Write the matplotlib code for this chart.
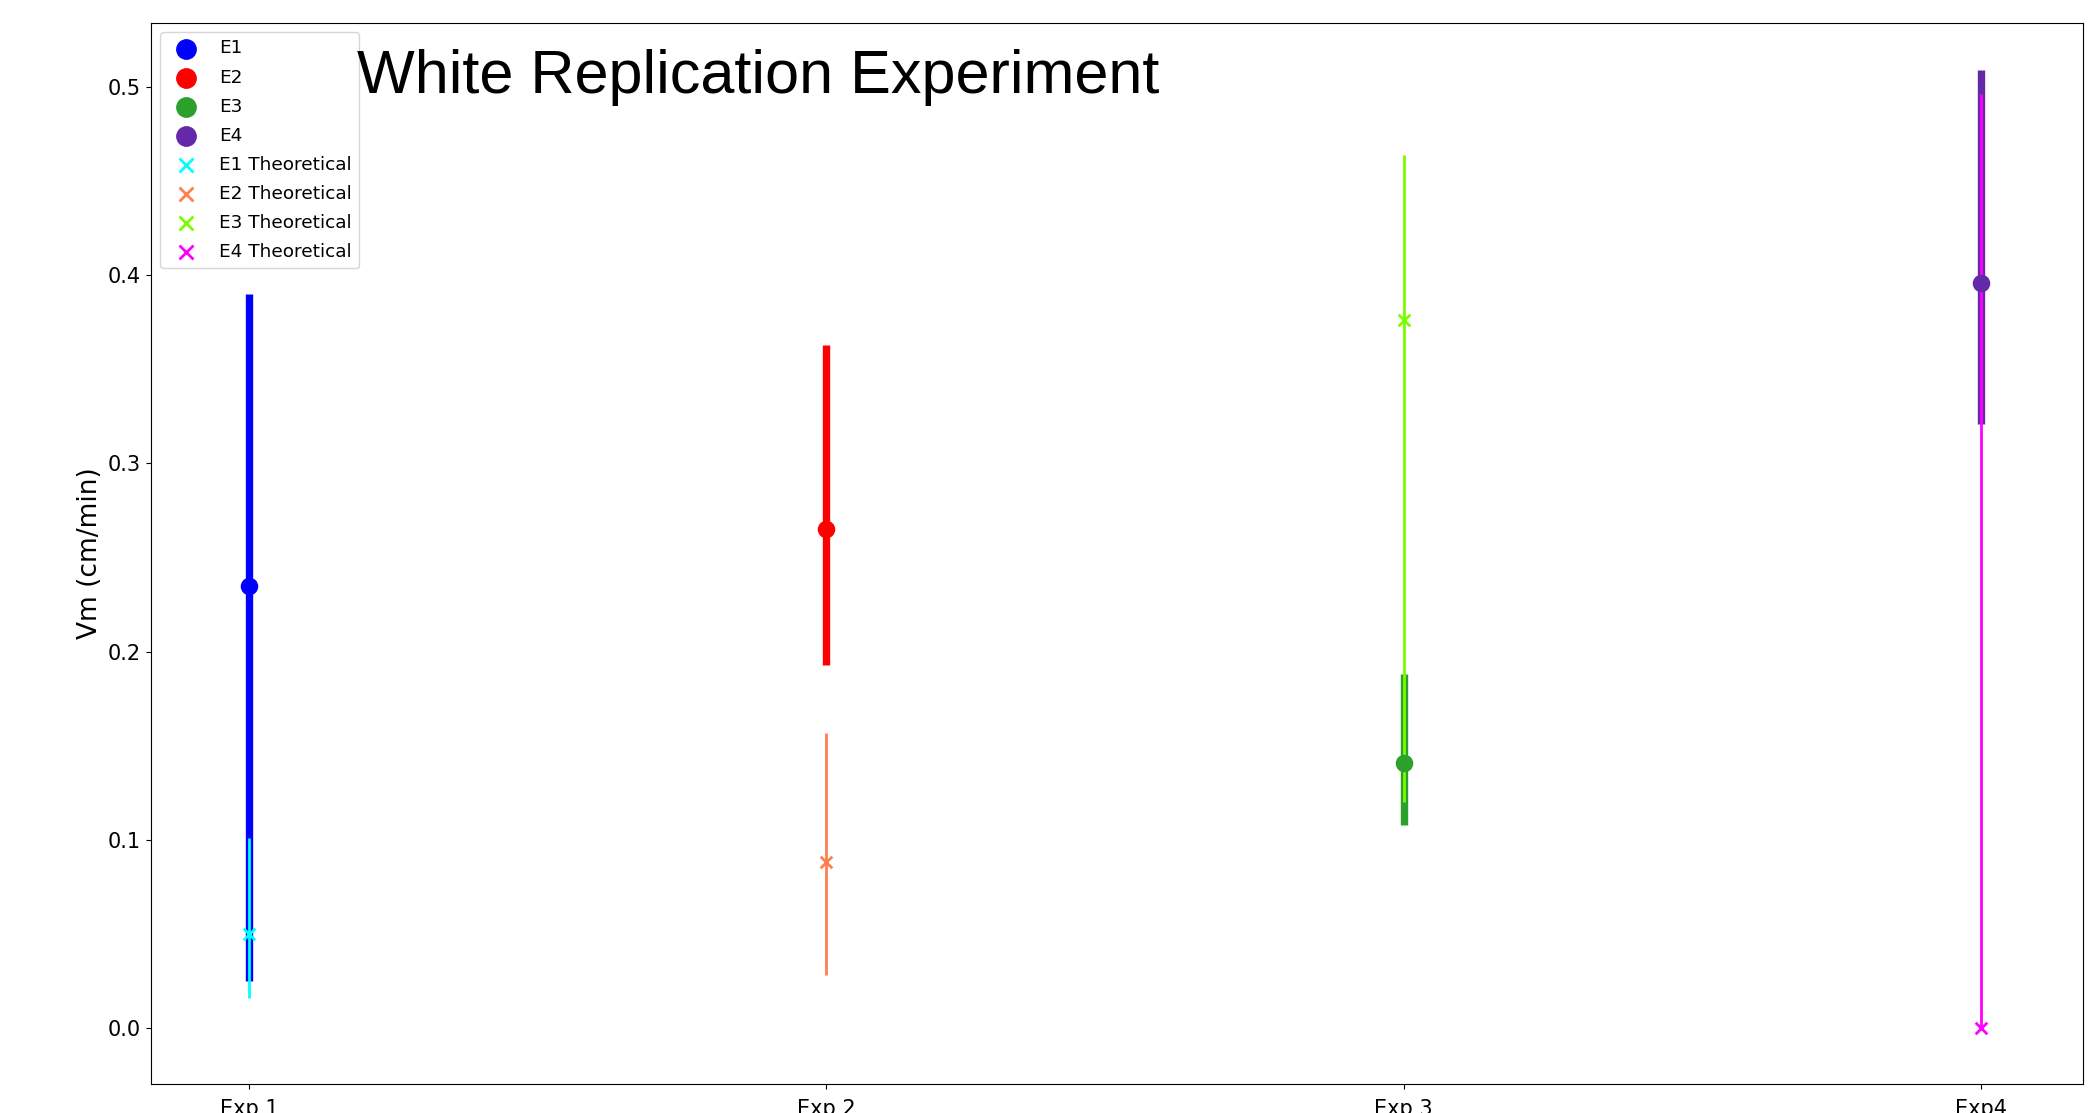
import numpy as np
import matplotlib.pyplot as plt

# ── data ────────────────────────────────────────────
experiments = ['Exp 1', 'Exp 2', 'Exp 3', 'Exp4']

# measured Vm with the ends of the error bars
vm_mean = [0.235, 0.265, 0.141, 0.396]
vm_low = [0.025, 0.193, 0.108, 0.321]
vm_high = [0.390, 0.363, 0.188, 0.509]

# theoretical Vm with the ends of the error bars
theo_mean = [0.050, 0.088, 0.376, 0.000]
theo_low = [0.016, 0.028, 0.120, 0.000]
theo_high = [0.101, 0.157, 0.464, 0.496]

exp_labels = ['E1', 'E2', 'E3', 'E4']
theo_labels = ['E1 Theoretical', 'E2 Theoretical', 'E3 Theoretical', 'E4 Theoretical']

exp_colors = ['blue', 'red', '#2ca02c', '#6329a8']
theo_colors = ['cyan', 'coral', 'lawngreen', 'magenta']

# ── plot ───────────────────────────────────────────
fig = plt.figure(figsize=(20.91, 11.13), dpi=100)
ax = fig.add_axes([0.0722, 0.026, 0.924, 0.9535])

x = np.arange(len(experiments))

# experimental bars (thick)
for i in range(len(x)):
    err = [[vm_mean[i] - vm_low[i]], [vm_high[i] - vm_mean[i]]]
    ax.errorbar(x[i], vm_mean[i], yerr=err, fmt='none',
                ecolor=exp_colors[i], elinewidth=5.3, capsize=0)

# theoretical bars (thin)
for i in range(len(x)):
    err = [[theo_mean[i] - theo_low[i]], [theo_high[i] - theo_mean[i]]]
    ax.errorbar(x[i], theo_mean[i], yerr=err, fmt='none',
                ecolor=theo_colors[i], elinewidth=2, capsize=0)

for i in range(len(x)):
    ax.scatter(x[i], vm_mean[i], s=135, color=exp_colors[i],
               label=exp_labels[i], zorder=3)
for i in range(len(x)):
    ax.scatter(x[i], theo_mean[i], s=70, marker='x', linewidths=2,
               color=theo_colors[i], label=theo_labels[i], zorder=3)

ax.set_xlim(-0.17, 3.177)
ax.set_ylim(-0.0297, 0.534)
ax.set_xticks(x)
ax.set_xticklabels(experiments, fontsize=15)
ax.tick_params(axis='x', pad=7)
ax.set_yticks([0.0, 0.1, 0.2, 0.3, 0.4, 0.5])
ax.tick_params(axis='y', labelsize=15)
ax.set_ylabel('Vm (cm/min)', fontsize=19)

ax.legend(loc='upper left', fontsize=13.3, markerscale=1.2, labelspacing=0.6)

fig.text(357 / 2091, 1 - 93 / 1113, 'White Replication Experiment',
         fontsize=44, family='Liberation Sans', ha='left', va='baseline')

fig.savefig('out.png', dpi=100)
